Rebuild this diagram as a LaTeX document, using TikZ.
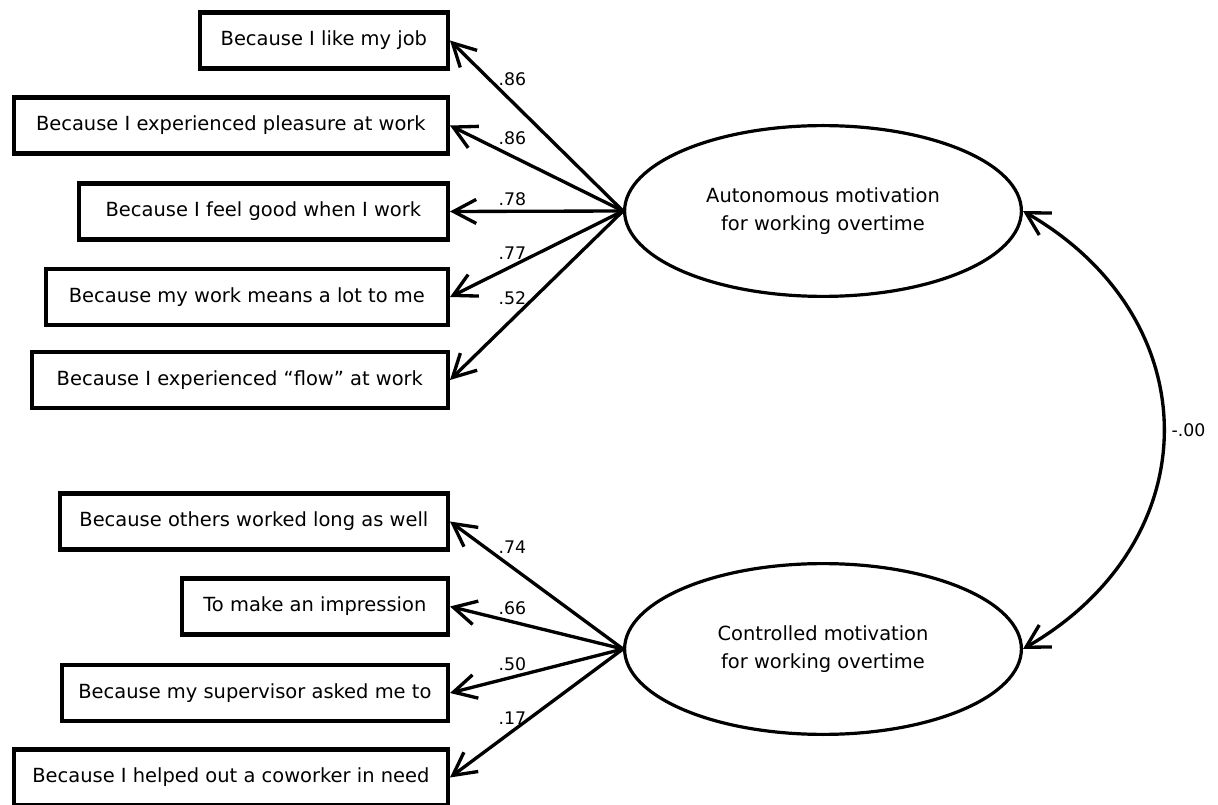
\documentclass[tikz,border=0pt]{standalone}
\usepackage{fontspec}
\setmainfont{DejaVu Sans}
\usetikzlibrary{shapes.geometric,arrows.meta}

\begin{document}
\begin{tikzpicture}[
    x=0.75pt, y=-0.75pt,
    item/.style={rectangle, draw, line width=3.2pt, minimum height=42pt,
        inner xsep=2pt, anchor=east, font=\fontsize{14.6}{17}\selectfont},
    factor/.style={ellipse, draw, line width=2.4pt, minimum width=297.6pt,
        minimum height=128.1pt, inner sep=0pt, align=center,
        font=\fontsize{14.6}{21.5}\selectfont},
    loading/.style={draw, line width=2.5pt,
        -{Straight Barb[length=17pt, width=18pt]}},
    covar/.style={draw, line width=2.5pt,
        {Straight Barb[length=17pt, width=19pt]}-{Straight Barb[length=17pt, width=19pt]}},
    weight/.style={pos=.64, inner sep=1pt, font=\fontsize{13}{15}\selectfont}
]
\useasboundingbox (0,0) rectangle (1218,805);

% latent factors
\node (Auto) [factor] at (823,211) {Autonomous motivation\\ for working overtime};
\node (Ctrl) [factor] at (823,649) {Controlled motivation\\ for working overtime};

% indicators of autonomous motivation
\node (Job) [item, minimum width=186pt] at (450,40.5) {Because I like my job};
\node (Pleasure) [item, minimum width=325.5pt] at (450,125.5) {Because I experienced pleasure at work};
\node (Good) [item, minimum width=276.75pt] at (450,211.5) {Because I feel good when I work};
\node (Means) [item, minimum width=301.5pt] at (450,297) {Because my work means a lot to me};
\node (Flow) [item, minimum width=312pt] at (450,380) {Because I experienced “flow” at work};

% indicators of controlled motivation
\node (Others) [item, minimum width=291pt] at (450,521.5) {Because others worked long as well};
\node (Impress) [item, minimum width=199.5pt] at (450,606.5) {To make an impression};
\node (Boss) [item, minimum width=289.5pt] at (450,693) {Because my supervisor asked me to};
\node (Helped) [item, minimum width=325.5pt] at (450,777.5) {Because I helped out a coworker in need};

\draw [loading] (Auto.west) -- node [weight, yshift=17pt] {.86} (Job.east);
\draw [loading] (Auto.west) -- node [weight, yshift=13.3pt] {.86} (Pleasure.east);
\draw [loading] (Auto.west) -- node [weight, yshift=8.8pt] {.78} (Good.east);
\draw [loading] (Auto.west) -- node [weight, yshift=10pt] {.77} (Means.east);
\draw [loading] (Auto.west) -- node [weight, yshift=15.8pt] {.52} (Flow.east);

\draw [loading] (Ctrl.west) -- node [weight, yshift=15.2pt] {.74} (Others.east);
\draw [loading] (Ctrl.west) -- node [weight, yshift=10.5pt] {.66} (Impress.east);
\draw [loading] (Ctrl.west) -- node [weight, yshift=9.7pt] {.50} (Boss.east);
\draw [loading] (Ctrl.west) -- node [weight, yshift=10pt] {.17} (Helped.east);

% correlation between the factors
\draw [covar] (Auto.east) .. controls +(187,108) and +(187,-108) ..
    node [weight, pos=.5, right=4pt] {-.00} (Ctrl.east);
\end{tikzpicture}
\end{document}
